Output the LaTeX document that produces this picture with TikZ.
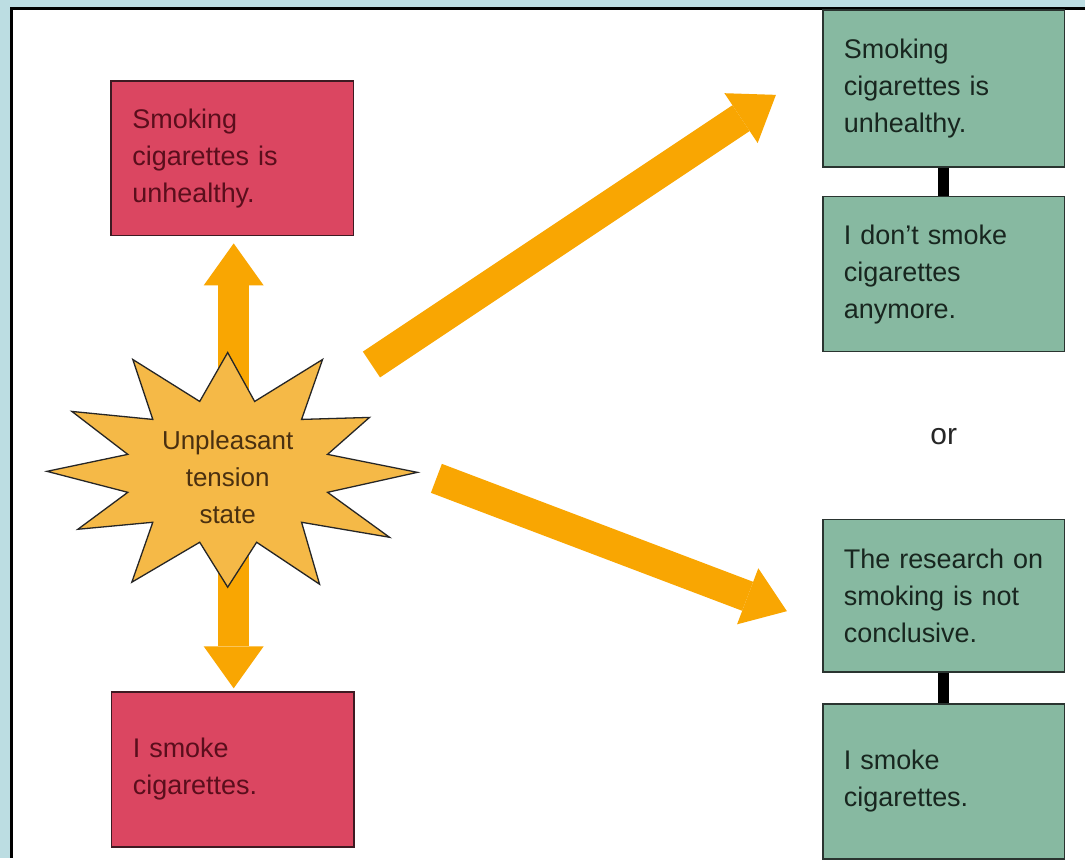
\documentclass[tikz,border=0pt]{standalone}
\usepackage{fontspec}
\setmainfont{Liberation Sans}
\usetikzlibrary{arrows.meta,calc}
\definecolor{panelbg}{HTML}{BCDDE2}
\definecolor{redfill}{HTML}{DB4661}
\definecolor{redline}{HTML}{3E1A22}
\definecolor{redtext}{HTML}{5A0E1C}
\definecolor{greenfill}{HTML}{87B9A1}
\definecolor{greenline}{HTML}{2A3430}
\definecolor{greentext}{HTML}{18261F}
\definecolor{starfill}{HTML}{F5B947}
\definecolor{startext}{HTML}{4A3010}
\definecolor{arrowcol}{HTML}{F9A602}
\tikzset{bighead/.tip={Triangle[length=42pt,width=60pt,line width=0pt]}}
\begin{document}
\begin{tikzpicture}[x=1pt,y=-1pt,
  boxtext/.style={font=\fontsize{27}{37}\selectfont, align=left,
    text width=200pt, inner xsep=21pt, inner ysep=0pt, line width=1.5pt},
  redbox/.style={boxtext, draw=redline, fill=redfill, text=redtext,
    minimum width=243pt},
  greenbox/.style={boxtext, draw=greenline, fill=greenfill, text=greentext,
    minimum width=242pt},
  bigarrow/.style={draw=arrowcol, line width=31pt},
  link/.style={draw=black, line width=11pt}]

% page background and framed panel
\fill[panelbg] (0,0) rectangle (1086,859);
\fill[white] (11,8) rectangle (1086,859);
\draw[black, line width=3pt] (11.5,859) -- (11.5,8.5) -- (1086,8.5);

% left column
\node[redbox, minimum height=155pt] (rtop) at (232.5,158.5)
  {Smoking\\cigarettes is\\unhealthy.};
\node[redbox, minimum height=155pt] (rbot) at (233,770.5)
  {I smoke\\cigarettes.};

% right column
\node[greenbox, minimum height=157pt] (g1) at (945,88.5)
  {Smoking\\cigarettes is\\unhealthy.};
\node[greenbox, minimum height=155pt] (g2) at (945,274.5)
  {I don't smoke\\cigarettes\\anymore.};
\node[greenbox, minimum height=153pt] (g3) at (945,596.5)
  {The research on\\smoking is not\\conclusive.};
\node[greenbox, minimum height=155pt] (g4) at (945,782.5)
  {I smoke\\cigarettes.};
\draw[link] (g1.south) -- (g2.north);
\draw[link] (g3.south) -- (g4.north);
\node[font=\fontsize{30}{34}\selectfont, text=black!85] (or) at (945,437) {or};

% arrows leaving the tension state
\draw[bigarrow, bighead-bighead]
  ([xshift=1.5pt,yshift=-7pt]rtop.south) -- ([xshift=1pt,yshift=3pt]rbot.north);
\coordinate (upTail) at (372,365);
\coordinate (upTip) at (777,95);
\coordinate (downTail) at (437,479);
\coordinate (downTip) at (788,612);
\draw[bigarrow, -bighead] (upTail) -- (upTip);
\draw[bigarrow, -bighead] (downTail) -- (downTip);

% tension state burst
\draw[fill=starfill, draw=black!85, line width=1.3pt, line join=miter]
  (228,353) -- (255,402) -- (323,360) -- (302,420) -- (370,418) -- (328,455)
  -- (418,473) -- (328,493) -- (390,538) -- (302,523) -- (320,585) -- (257,543)
  -- (228,588) -- (200,543) -- (132,583) -- (153,523) -- (78,530) -- (128,493)
  -- (47,472) -- (128,455) -- (72,412) -- (153,420) -- (133,360) -- (200,402)
  -- cycle;
\node[font=\fontsize{26}{37}\selectfont, align=center, text=startext]
  (tension) at (228,478) {Unpleasant\\tension\\state};
\end{tikzpicture}
\end{document}
